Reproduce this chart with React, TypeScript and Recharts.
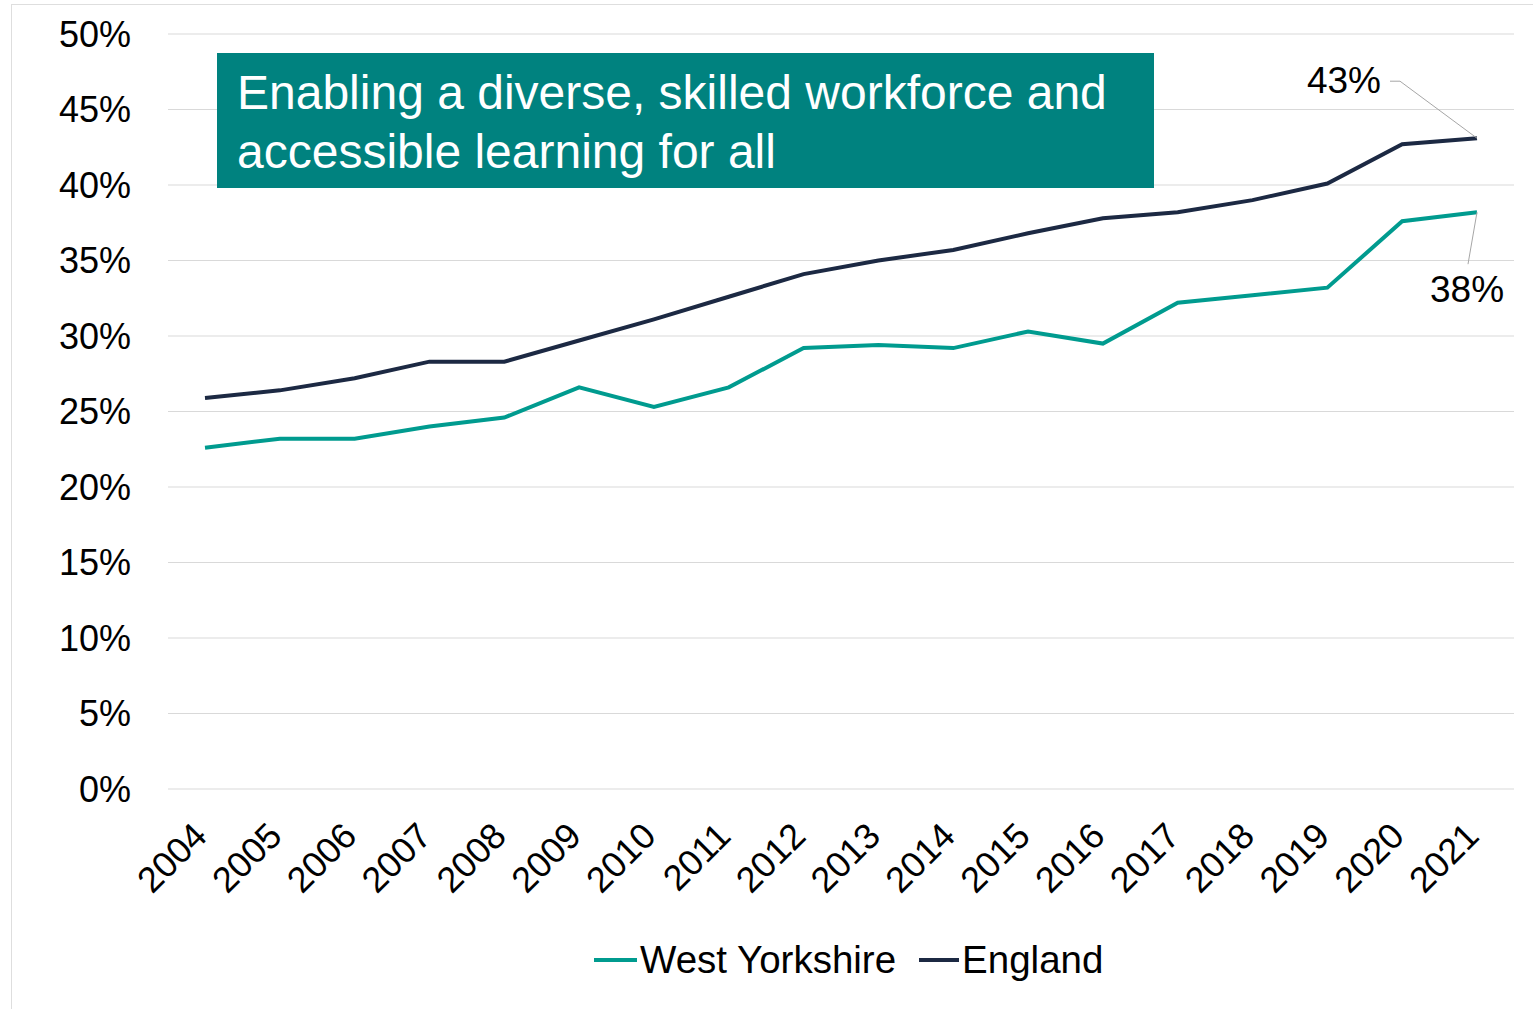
import { CartesianGrid, LabelList, Legend, Line, LineChart, XAxis, YAxis } from "recharts";

const years = [
  "2004", "2005", "2006", "2007", "2008", "2009", "2010", "2011", "2012",
  "2013", "2014", "2015", "2016", "2017", "2018", "2019", "2020", "2021",
];
const westYorkshire = [
  22.6, 23.2, 23.2, 24.0, 24.6, 26.6, 25.3, 26.6, 29.2,
  29.4, 29.2, 30.3, 29.5, 32.2, 32.7, 33.2, 37.6, 38.2,
];
const england = [
  25.9, 26.4, 27.2, 28.3, 28.3, 29.7, 31.1, 32.6, 34.1,
  35.0, 35.7, 36.8, 37.8, 38.2, 39.0, 40.1, 42.7, 43.1,
];
const yTicks = [0, 5, 10, 15, 20, 25, 30, 35, 40, 45, 50];
const title = ["Enabling a diverse, skilled workforce and", "accessible learning for all"];

const data = years.map((year, i) => ({
  year,
  westYorkshire: westYorkshire[i],
  england: england[i],
}));

const FONT = '"Liberation Sans", Arial, sans-serif';
const TEAL = "#009b8f";
const NAVY = "#1c2943";
const LAST = years.length - 1;

const YearTick = (props: any) => {
  const { x, y, payload } = props;
  return (
    <text
      x={x + 4}
      y={y + 49}
      textAnchor="end"
      transform={`rotate(-45, ${x + 4}, ${y + 49})`}
      fontSize={36}
      fontFamily={FONT}
      fill="#000"
    >
      {payload.value}
    </text>
  );
};

const EnglandLabel = (props: any) => {
  const { x, y, index, value } = props;
  if (index !== LAST) return null;
  return (
    <g>
      <polyline
        points={`${x - 87},${y - 57} ${x - 77},${y - 57} ${x},${y}`}
        fill="none"
        stroke="#a6a6a6"
        strokeWidth={1}
      />
      <text x={x - 96} y={y - 45} textAnchor="end" fontSize={37} fontFamily={FONT} fill="#000">
        {Math.round(value)}%
      </text>
    </g>
  );
};

const WestYorkshireLabel = (props: any) => {
  const { x, y, index, value } = props;
  if (index !== LAST) return null;
  return (
    <g>
      <line x1={x - 9} y1={y + 52} x2={x} y2={y} stroke="#a6a6a6" strokeWidth={1} />
      <text x={x - 10} y={y + 90} textAnchor="middle" fontSize={37} fontFamily={FONT} fill="#000">
        {Math.round(value)}%
      </text>
    </g>
  );
};

const LegendContent = () => (
  <div
    style={{
      display: "flex",
      alignItems: "center",
      height: 50,
      paddingLeft: 594,
      fontFamily: FONT,
      fontSize: 38.5,
      color: "#000",
    }}
  >
    <div style={{ width: 43, height: 4, background: TEAL }} />
    <span style={{ marginLeft: 3 }}>West Yorkshire</span>
    <div style={{ width: 40, height: 4, background: NAVY, marginLeft: 23 }} />
    <span style={{ marginLeft: 3 }}>England</span>
  </div>
);

export default function App() {
  return (
    <div
      style={{
        position: "absolute",
        left: 0,
        top: 0,
        width: 1533,
        height: 1009,
        overflow: "hidden",
        background: "#fff",
      }}
    >
      <div
        style={{
          position: "absolute",
          left: 11,
          top: 4,
          width: 1600,
          height: 1100,
          border: "1px solid #dedede",
        }}
      />
      <LineChart
        width={1533}
        height={1009}
        data={data}
        margin={{ top: 34, right: 19, left: 0, bottom: 24 }}
        style={{ position: "absolute", left: 0, top: 0 }}
      >
        <CartesianGrid vertical={false} stroke="#d9d9d9" strokeWidth={1} />
        <XAxis
          dataKey="year"
          axisLine={false}
          tickLine={false}
          tickSize={0}
          tickMargin={0}
          interval={0}
          height={146}
          padding={{ left: 37, right: 37 }}
          tick={<YearTick />}
        />
        <YAxis
          domain={[0, 50]}
          ticks={yTicks}
          width={168}
          axisLine={false}
          tickLine={false}
          tickSize={0}
          tickMargin={37}
          tickFormatter={(v: number) => `${v}%`}
          tick={{ fontSize: 36, fontFamily: FONT, fill: "#000" }}
        />
        <Legend
          verticalAlign="bottom"
          height={50}
          width={1533}
          wrapperStyle={{ left: 0 }}
          content={<LegendContent />}
        />
        <Line
          dataKey="westYorkshire"
          name="West Yorkshire"
          stroke={TEAL}
          strokeWidth={4}
          dot={false}
          activeDot={false}
          isAnimationActive={false}
        >
          <LabelList dataKey="westYorkshire" content={<WestYorkshireLabel />} />
        </Line>
        <Line
          dataKey="england"
          name="England"
          stroke={NAVY}
          strokeWidth={4}
          dot={false}
          activeDot={false}
          isAnimationActive={false}
        >
          <LabelList dataKey="england" content={<EnglandLabel />} />
        </Line>
      </LineChart>
      <div
        style={{
          position: "absolute",
          left: 217,
          top: 53,
          width: 937,
          height: 135,
          boxSizing: "border-box",
          background: "#00827f",
          color: "#fff",
          fontFamily: FONT,
          fontSize: 48,
          lineHeight: "59px",
          paddingTop: 10,
          paddingLeft: 20,
          whiteSpace: "nowrap",
        }}
      >
        {title.map((t) => (
          <div key={t}>{t}</div>
        ))}
      </div>
    </div>
  );
}
